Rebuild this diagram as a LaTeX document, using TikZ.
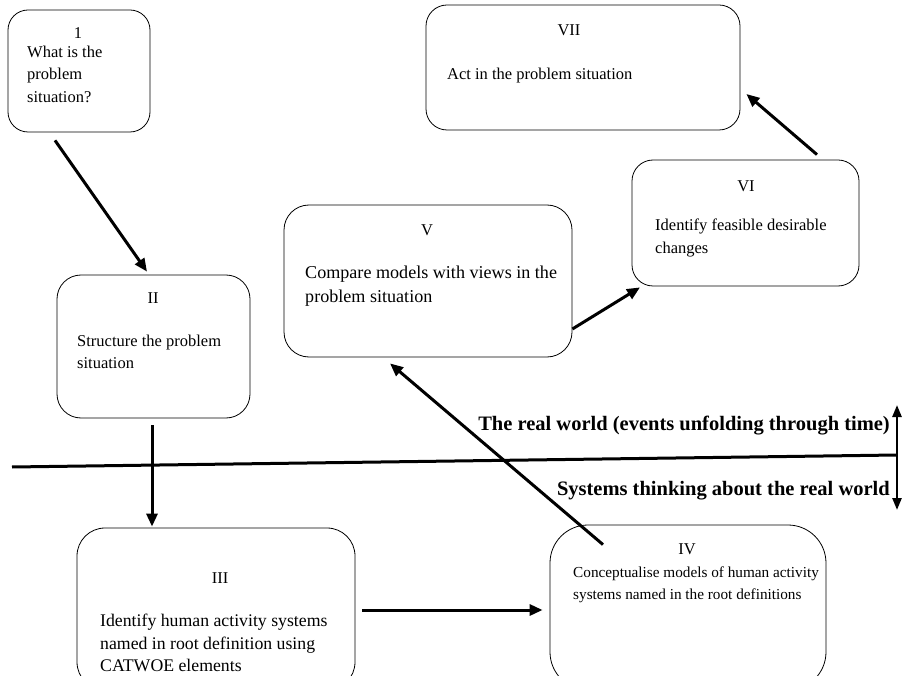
\documentclass[tikz,border=0pt]{standalone}
\usepackage{fontspec}
\setmainfont{Liberation Serif}
\usetikzlibrary{arrows.meta}

\begin{document}
\begin{tikzpicture}[
    x=1pt, y=-1pt,
    box/.style={draw, rounded corners=#1, line width=0.8pt, inner sep=0pt},
    box/.default=20pt,
    num/.style={anchor=base, inner sep=0pt, font=\fontsize{16.5}{22}\selectfont},
    txt/.style={anchor=north west, align=left, inner sep=0pt, font=\fontsize{16.5}{22.5}\selectfont},
    world/.style={anchor=base east, inner sep=0pt, font=\fontsize{20.5}{24}\selectfont\bfseries},
    flow/.style={-{Triangle[length=13pt,width=11pt]}, line width=3pt}
]
    \useasboundingbox (0,0) rectangle (902,676);

    % the seven stages
    \node[box=20pt, minimum width=142pt, minimum height=122pt] (b1) at (79,71) {};
    \node[box=24pt, minimum width=193pt, minimum height=143pt] (b2) at (153.5,346.5) {};
    \node[box=28pt, minimum width=278pt, minimum height=162pt] (b3) at (216,609) {};
    \node[box=38pt, minimum width=276pt, minimum height=165pt] (b4) at (688,607.5) {};
    \node[box=25pt, minimum width=288pt, minimum height=152pt] (b5) at (428,281) {};
    \node[box=21pt, minimum width=227pt, minimum height=126pt] (b6) at (745.5,223) {};
    \node[box=21pt, minimum width=314pt, minimum height=125pt] (b7) at (583,67.5) {};

    \node[num] (n1) at (78,39) {1};
    \node[txt] (t1) at (27,45.7) {What is the\\problem\\situation?};
    \node[num] (n2) at (153,303) {II};
    \node[txt] (t2) at (77,334.7) {Structure the problem\\situation};
    \node[num] (n3) at (220,583) {III};
    \node[txt, font=\fontsize{17.75}{22.5}\selectfont] (t3) at (100,614)
        {Identify human activity systems\\named in root definition using\\CATWOE elements};
    \node[num] (n4) at (687,554) {IV};
    \node[txt, font=\fontsize{15.25}{22}\selectfont] (t4) at (573,566.6)
        {Conceptualise models of human activity\\systems named in the root definitions};
    \node[num] (n5) at (427,236) {V};
    \node[txt, font=\fontsize{18.1}{24}\selectfont] (t5) at (305,265.6)
        {Compare models with views in the\\problem situation};
    \node[num] (n6) at (746,192) {VI};
    \node[txt] (t6) at (655,218.7) {Identify feasible desirable\\changes};
    \node[num] (n7) at (569,36) {VII};
    \node[txt] (t7) at (447,67.7) {Act in the problem situation};

    % flow between stages
    \draw[flow] ([xshift=-24pt,yshift=-8pt]b1.south) -- ([xshift=-6.5pt,yshift=3pt]b2.north);
    \draw[flow] ([xshift=-1.5pt,yshift=-7pt]b2.south) -- ([xshift=-64pt,yshift=1pt]b3.north);
    \draw[flow] ([xshift=7pt,yshift=-1pt]b3.east) -- ([xshift=-7pt,yshift=-2.5pt]b4.west);
    \draw[flow] ([xshift=-85pt,yshift=-20pt]b4.north) -- ([xshift=-38pt,yshift=-6pt]b5.south);
    \draw[flow] ([yshift=-48pt]b5.east) -- ([xshift=-105.5pt,yshift=-1pt]b6.south);
    \draw[flow] ([xshift=71.5pt,yshift=5pt]b6.north) -- ([xshift=6pt,yshift=-26.5pt]b7.east);

    % real world / systems thinking divide
    \coordinate (wl) at (12,467);
    \coordinate (wr) at (897,455);
    \coordinate (up) at (897,405);
    \coordinate (dn) at (897,510);
    \draw[line width=3pt] (wl) -- (wr);
    \draw[{Triangle[length=12pt,width=9pt]}-{Triangle[length=12pt,width=9pt]}, line width=2.5pt] (up) -- (dn);
    \node[world] (rw) at (890,430) {The real world (events unfolding through time)};
    \node[world] (st) at (890,495) {Systems thinking about the real world};
\end{tikzpicture}
\end{document}
